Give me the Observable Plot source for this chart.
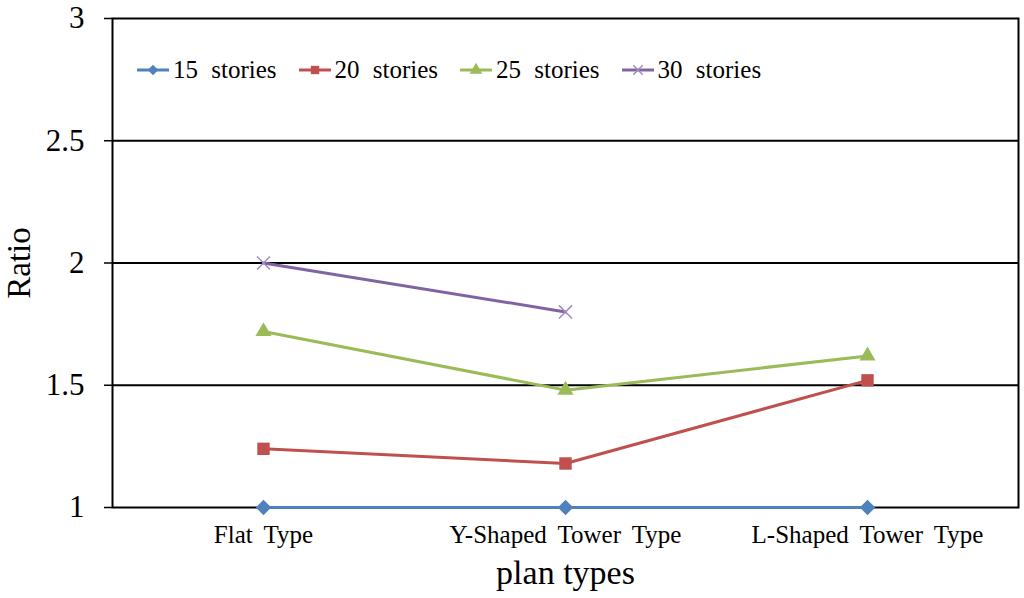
<!DOCTYPE html>
<html>
<head>
<meta charset="utf-8">
<script src="https://cdn.jsdelivr.net/npm/d3@7"></script>
<script src="https://cdn.jsdelivr.net/npm/@observablehq/plot@0.6"></script>
<style>
  html, body { margin: 0; padding: 0; background: #fff; }
  #wrap { position: relative; width: 1024px; height: 598px; font-family: "Liberation Serif", serif; }
  #legend { position: absolute; left: 136px; top: 56px; display: flex; align-items: center; font-size: 25px; word-spacing: 7px; color: #000; }
  .item { display: flex; align-items: center; margin-right: 21px; }
  .item svg { margin-right: 3px; }
  svg [aria-label="x-axis tick label"] text { word-spacing: 5px; }
</style>
</head>
<body>
<div id="wrap"><div id="chart"></div><div id="legend"></div></div>
<script>
const categories = ["Flat Type", "Y-Shaped Tower Type", "L-Shaped Tower Type"];
const seriesNames = ["15 stories", "20 stories", "25 stories", "30 stories"];
const colors = ["#4F81BD", "#C0504D", "#9BBB59", "#8064A2"];
const symbols = ["diamond2", "square", "triangle", "times"];
const s15 = [1.0, 1.0, 1.0];
const s20 = [1.24, 1.18, 1.52];
const s25 = [1.72, 1.48, 1.62];
const s30 = [2.0, 1.80, null];
const yTicks = [1, 1.5, 2, 2.5, 3];
const gridLines = [1.5, 2, 2.5];

const allSeries = [s15, s20, s25, s30];
const data = [];
allSeries.forEach((vals, i) => vals.forEach((v, j) => {
  if (v != null) data.push({series: seriesNames[i], cat: categories[j], value: v});
}));

const font = "Liberation Serif";
const marks = [
  Plot.ruleY(gridLines, {stroke: "#000", strokeWidth: 2}),
  Plot.frame({stroke: "#000", strokeWidth: 2}),
  Plot.axisY({ticks: yTicks, tickFormat: d => String(d), tickSize: 8, tickPadding: 20, fontSize: 31, label: null, stroke: "#000", strokeWidth: 1.5}),
  Plot.axisX({tickSize: 0, tickPadding: 18, fontSize: 25, label: null}),
  Plot.text(["Ratio"], {frameAnchor: "left", textAnchor: "middle", dx: -93, rotate: -90, fontSize: 33, fill: "#000"}),
  Plot.text(["plan types"], {frameAnchor: "bottom", dy: 76, fontSize: 34, fill: "#000"})
];
seriesNames.forEach((name, i) => {
  const d = data.filter(r => r.series === name);
  marks.push(Plot.line(d, {x: "cat", y: "value", stroke: colors[i], strokeWidth: 3}));
  if (symbols[i] === "times") {
    marks.push(Plot.dot(d, {x: "cat", y: "value", symbol: "times", stroke: "#A08CC0", strokeWidth: 1.5, r: 6}));
  } else {
    marks.push(Plot.dot(d, {x: "cat", y: "value", symbol: symbols[i], fill: colors[i], stroke: "none", r: symbols[i] === "triangle" ? 6 : 7}));
  }
});

const chart = Plot.plot({
  width: 1024, height: 598,
  marginLeft: 112, marginRight: 6, marginTop: 18, marginBottom: 91,
  style: {fontFamily: font, background: "#fff", color: "#000"},
  x: {type: "point", domain: categories, padding: 0.5},
  y: {domain: [1, 3]},
  marks
});
document.getElementById("chart").appendChild(chart);

const legend = document.getElementById("legend");
seriesNames.forEach((name, i) => {
  const item = document.createElement("div");
  item.className = "item";
  const sym = d3.symbol().type(
    symbols[i] === "diamond2" ? d3.symbolDiamond2 :
    symbols[i] === "square" ? d3.symbolSquare :
    symbols[i] === "triangle" ? d3.symbolTriangle : d3.symbolTimes
  ).size(symbols[i] === "times" ? 60 : 70)();
  const fill = symbols[i] === "times" ? "none" : colors[i];
  const stroke = symbols[i] === "times" ? "#A08CC0" : "none";
  item.innerHTML = `<svg width="34" height="20"><line x1="1" y1="10" x2="33" y2="10" stroke="${colors[i]}" stroke-width="3"/><path transform="translate(17,10)" d="${sym}" fill="${fill}" stroke="${stroke}" stroke-width="1.5"/></svg><span>${name}</span>`;
  legend.appendChild(item);
});
</script>
</body>
</html>
